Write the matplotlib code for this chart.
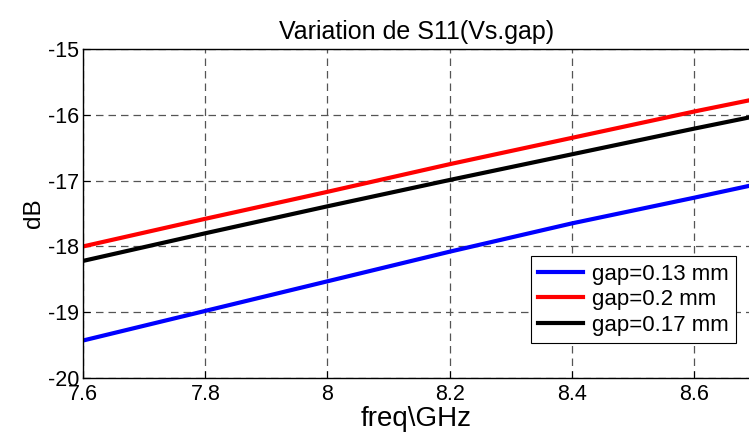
import matplotlib.pyplot as plt

plt.rcParams['font.family'] = ['Liberation Sans', 'DejaVu Sans']
plt.rcParams['axes.unicode_minus'] = False

# ---- data ----
freq = [7.6, 7.8, 8.0, 8.2, 8.4, 8.6, 8.69]
s11_013 = [-19.43, -18.98, -18.53, -18.08, -17.65, -17.26, -17.08]
s11_020 = [-18.00, -17.58, -17.17, -16.75, -16.35, -15.95, -15.78]
s11_017 = [-18.22, -17.80, -17.39, -16.99, -16.60, -16.21, -16.04]
labels = ['gap=0.13 mm', 'gap=0.2 mm', 'gap=0.17 mm']
colors = ['#0000ff', '#ff0000', '#000000']

fig = plt.figure(figsize=(7.49, 4.38), dpi=100)
ax = fig.add_axes([0.111, 0.137, 0.889, 0.751])

for ys, lab, col in zip([s11_013, s11_020, s11_017], labels, colors):
    ax.plot(freq, ys, color=col, linewidth=3, label=lab)

ax.set_xlim(7.6, 8.69)
ax.set_ylim(-20, -15)
ax.set_xticks([7.6, 7.8, 8.0, 8.2, 8.4, 8.6])
ax.set_xticklabels(['7.6', '7.8', '8', '8.2', '8.4', '8.6'])
ax.set_yticks([-20, -19, -18, -17, -16, -15])
ax.grid(True, linestyle=(0, (6, 4)), color='#555555', linewidth=0.9)
ax.tick_params(direction='in', labelsize=15.5, length=5, width=0.8)
ax.tick_params(axis='x', pad=4)
ax.tick_params(axis='y', pad=3)
ax.spines['right'].set_visible(False)
for s in ['left', 'bottom', 'top']:
    ax.spines[s].set_linewidth(1.0)

ax.set_title('Variation de S11(Vs.gap)', fontsize=18, pad=7)
ax.set_xlabel('freq\\GHz', fontsize=20, labelpad=1)
ax.set_ylabel('dB', fontsize=17.5, labelpad=2)

leg = ax.legend(loc='lower left', bbox_to_anchor=(0.672, 0.105), fontsize=16,
                frameon=True, fancybox=False, edgecolor='black', framealpha=1,
                handlelength=2.0, handletextpad=0.4, labelspacing=0.2,
                borderpad=0.35, borderaxespad=0)
leg.get_frame().set_linewidth(0.8)

plt.savefig('out.png', dpi=100)
